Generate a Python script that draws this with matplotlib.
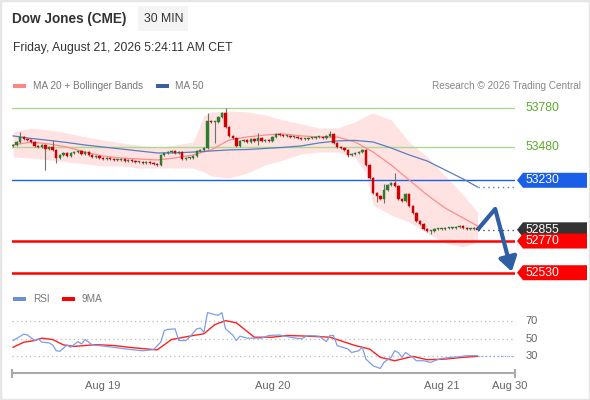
import matplotlib
matplotlib.use("Agg")
import matplotlib.pyplot as plt
from matplotlib.patches import Polygon, Rectangle
from matplotlib.transforms import blended_transform_factory
import numpy as np

plt.rcParams['font.family'] = ['Liberation Sans', 'DejaVu Sans']

# 30 min candles (close prices), open = previous close
first_open = 53490
closes = [53497, 53520, 53558, 53543, 53535, 53520, 53490, 53482, 53497, 53467,
          53482, 53460, 53399, 53422, 53437, 53414, 53437, 53444, 53452, 53429,
          53444, 53422, 53406, 53414, 53399, 53391, 53399, 53391, 53384, 53384,
          53391, 53376, 53384, 53376, 53369, 53369, 53361, 53369, 53361, 53353,
          53346, 53422, 53437, 53444, 53452, 53437, 53444, 53391, 53399, 53399,
          53414, 53452, 53460, 53475, 53679, 53672, 53672, 53710, 53740, 53634,
          53566, 53550, 53490, 53528, 53535, 53520, 53543, 53528, 53550, 53528,
          53535, 53528, 53558, 53581, 53573, 53566, 53566, 53558, 53558, 53550,
          53543, 53543, 53550, 53550, 53558, 53558, 53550, 53566, 53581, 53513,
          53482, 53475, 53460, 53422, 53429, 53437, 53444, 53460, 53346, 53247,
          53134, 53111, 53088, 53156, 53194, 53210, 53187, 53088, 53073, 53126,
          53035, 52982, 52922, 52899, 52861, 52846, 52846, 52861, 52861, 52861,
          52869, 52869, 52869, 52876, 52884, 52869, 52861, 52861, 52869, 52855]
long_highs = {2: 53596, 11: 53535, 54: 53740, 59: 53778, 68: 53588, 88: 53603,
              103: 53202, 106: 53285}
long_lows = {9: 53310, 12: 53361, 56: 53513, 68: 53497, 93: 53406, 101: 53065,
             103: 53058, 116: 52823}

# moving averages
ma_idx = list(range(0, 130, 5)) + [129]
ma20 = [53497, 53520, 53505, 53482, 53444, 53414, 53399, 53391, 53384, 53399,
        53422, 53460, 53535, 53558, 53573, 53581, 53566, 53558, 53558, 53520,
        53444, 53346, 53232, 53119, 53020, 52944, 52884]
ma50 = [53566, 53547, 53532, 53516, 53497, 53482, 53467, 53452, 53437, 53437,
        53444, 53452, 53460, 53463, 53471, 53479, 53490, 53513, 53528, 53532,
        53520, 53475, 53422, 53376, 53308, 53240, 53179]

# bollinger bands
band_idx = [0, 5, 10, 15, 20, 25, 30, 35, 40, 45, 50, 53, 55, 60, 65, 70, 75, 80,
            85, 90, 95, 98, 100, 105, 110, 115, 120, 125, 129]
band_upper = [53596, 53626, 53611, 53588, 53558, 53535, 53513, 53497, 53475, 53497,
              53520, 53717, 53748, 53755, 53748, 53725, 53687, 53657, 53626, 53626,
              53672, 53717, 53740, 53687, 53520, 53407, 53263, 53119, 52990]
band_lower = [53407, 53399, 53384, 53369, 53354, 53338, 53338, 53323, 53323, 53323,
              53323, 53293, 53263, 53247, 53285, 53346, 53384, 53429, 53444, 53444,
              53399, 53285, 53043, 52967, 52914, 52831, 52755, 52725, 52763]

# RSI and its 9 period average
rsi_idx = [0, 3, 4, 6, 7, 8, 10, 11, 12, 13, 15, 16, 18, 19, 20, 22, 26, 30, 33, 36,
           39, 41, 42, 43, 45, 46, 48, 49, 51, 52, 53, 54, 56, 57, 58, 59, 61, 62, 63,
           65, 69, 71, 74, 77, 80, 82, 85, 87, 88, 89, 90, 93, 94, 96, 97, 98, 100,
           102, 103, 105, 106, 107, 108, 109, 111, 112, 114, 116, 117, 119, 122, 124,
           126, 129]
rsi = [47.7, 55, 54, 47.7, 49.6, 45.8, 45, 42.7, 36, 35.4, 42.7, 40, 46.5, 43.8, 48.8,
       42.7, 41, 38.8, 37.3, 36, 37.3, 45.8, 59, 60.4, 61, 47.7, 47.7, 51.5, 61, 62,
       57, 79.6, 77.3, 76.5, 79.6, 61, 54, 47.7, 52.7, 50.4, 50.4, 53.5, 54, 51.5,
       49.6, 53.5, 52.7, 46.5, 53.5, 53.5, 42, 38, 34, 36, 40, 26.5, 18.8, 15.8, 22.7,
       28.5, 36, 34, 28.5, 34, 28.5, 24.6, 24.6, 22.7, 24.6, 27.3, 28.5, 29.2, 30.4,
       30.4]
ma9_idx = [0, 3, 6, 8, 11, 14, 17, 23, 28, 33, 40, 44, 49, 53, 56, 59, 62, 67, 72, 76,
           82, 88, 95, 99, 102, 106, 111, 115, 120, 125, 129]
ma9 = [40, 45.8, 47.7, 50.4, 48.8, 42.7, 41, 43, 42, 39.6, 37, 48.8, 52.7, 55.4, 65.8,
       70.4, 68, 51.5, 51.5, 53.5, 52.7, 51.5, 42, 38, 28.5, 24.6, 29.6, 25.8, 26.5,
       28.5, 29.6]

# key levels
resistances = [53780, 53480]
pivot = 53230
last_price = 52855
supports = [52770, 52530]
target = 52530
target_peak = 53013

date_ticks = [25, 72, 119, 138]
date_labels = ['Aug 19', 'Aug 20', 'Aug 21', 'Aug 30']

W, H = 590, 400


def box(x0, y0, x1, y1):
    return [x0 / W, 1 - y1 / H, (x1 - x0) / W, (y1 - y0) / H]


fig = plt.figure(figsize=(W / 100, H / 100), dpi=100)
fig.patch.set_facecolor('white')
fig.patches.append(Rectangle((0, 0), 1, 1, transform=fig.transFigure, fill=False,
                             edgecolor='#e6e6e6', lw=2.5))

# header
fig.patches.append(Rectangle((138 / W, 1 - 31 / H), 50 / W, 25 / H, transform=fig.transFigure,
                             facecolor='#f4f4f4', edgecolor='none'))
fig.text(12 / W, 1 - 19 / H, 'Dow Jones (CME)', fontsize=9.8, fontweight='bold',
         color='#333333', va='center')
fig.text(144 / W, 1 - 19 / H, '30 MIN', fontsize=8.8, color='#333333', va='center')
fig.text(13 / W, 1 - 48 / H, 'Friday, August 21, 2026 5:24:11 AM CET', fontsize=8.7,
         color='#333333', va='center')

# legends
fig.patches.append(Rectangle((13 / W, 1 - 88 / H), 13 / W, 4 / H, transform=fig.transFigure,
                             facecolor='#ff8585', edgecolor='none'))
fig.text(33 / W, 1 - 86 / H, 'MA 20 + Bollinger Bands', fontsize=7.2, color='#777777', va='center')
fig.patches.append(Rectangle((156 / W, 1 - 88 / H), 13 / W, 4 / H, transform=fig.transFigure,
                             facecolor='#3a5f9f', edgecolor='none'))
fig.text(175 / W, 1 - 86 / H, 'MA 50', fontsize=7.2, color='#777777', va='center')
fig.text(581 / W, 1 - 86 / H, 'Research © 2026 Trading Central', fontsize=7.2,
         color='#888888', va='center', ha='right')
fig.patches.append(Rectangle((13 / W, 1 - 301 / H), 13 / W, 4 / H, transform=fig.transFigure,
                             facecolor='#6a8fe0', edgecolor='none'))
fig.text(33 / W, 1 - 299 / H, 'RSI', fontsize=7.2, color='#777777', va='center')
fig.patches.append(Rectangle((62 / W, 1 - 301 / H), 13 / W, 4 / H, transform=fig.transFigure,
                             facecolor='#ff0000', edgecolor='none'))
fig.text(82 / W, 1 - 299 / H, '9MA', fontsize=7.2, color='#777777', va='center')

# price panel
ax = fig.add_axes(box(12, 100, 515, 285))
ax.set_xlim(-0.3, 139.4)
ax.set_ylim(52437, 53838)
ax.axis('off')

n = len(closes)
idx = np.arange(n)
opens = np.array([first_open] + closes[:-1], dtype=float)
cl = np.array(closes, dtype=float)
highs = np.array([long_highs.get(i, max(o, c) + 8) for i, (o, c) in enumerate(zip(opens, cl))])
lows = np.array([long_lows.get(i, min(o, c) - 8) for i, (o, c) in enumerate(zip(opens, cl))])

ax.fill_between(band_idx, band_lower, band_upper, color='#ffe2e2', lw=0, zorder=1)
ax.plot(ma_idx, ma20, color='#ff8c8c', lw=0.9, zorder=2)
ax.plot(ma_idx, ma50, color='#5a7dbf', lw=0.9, zorder=2)
ax.hlines(ma50[-1], ma_idx[-1], 139.4, color='#5a7dbf', lw=1, linestyles=(0, (1, 2.5)), zorder=2)

colors = np.where(cl >= opens, '#2e7d2e', '#d10000')
ax.vlines(idx, lows, highs, color='#707070', lw=0.8, zorder=3)
body_low = np.minimum(opens, cl)
body_h = np.maximum(np.abs(cl - opens), 6)
ax.bar(idx, body_h, bottom=body_low, width=0.66, color=colors, edgecolor=colors,
       lw=0.3, zorder=4)

for lvl in resistances:
    ax.axhline(lvl, color='#acd88f', lw=1, zorder=1.5)
ax.axhline(pivot, color='#1a5fe6', lw=1, zorder=1.5)
for lvl in supports:
    ax.axhline(lvl, color='#ff0000', lw=1.8, zorder=1.5)
ax.hlines(last_price, n - 1, 139.4, color='#555555', lw=1, linestyles=(0, (1, 2.5)), zorder=2)

# projection arrow
ax.plot([n - 1, 133.9], [last_price, target_peak], color='#2f5fa3', lw=3, zorder=6,
        solid_capstyle='butt')
ax.annotate('', xy=(138.5, target + 8), xytext=(133.9, target_peak),
            arrowprops=dict(arrowstyle='-|>,head_length=0.7,head_width=0.45',
                            color='#2f5fa3', lw=3, shrinkA=0, shrinkB=0,
                            mutation_scale=12), zorder=6)

# right side labels
tr = blended_transform_factory(ax.transAxes, ax.transData)
px = 1 / 503
half = 7.5 * 1401 / 185
tx = 1 + 10.5 * px


def tag(price, text, color):
    x0, x1, tip = 1 + 2 * px, 1 + 72 * px, 6 * px
    pts = [(x0, price), (x0 + tip, price + half), (x1, price + half),
           (x1, price - half), (x0 + tip, price - half)]
    ax.add_patch(Polygon(pts, closed=True, transform=tr, facecolor=color,
                         edgecolor='none', clip_on=False, zorder=7))
    ax.text(tx, price, text, transform=tr, color='white', fontsize=8.8, va='center',
            clip_on=False, zorder=8)


for lvl in resistances:
    ax.text(tx, lvl, str(lvl), transform=tr, color='#5aaa2a', fontsize=8.8, va='center')
tag(pivot, str(pivot), '#1a5fe6')
tag(last_price, str(last_price), '#333333')
for lvl in supports:
    tag(lvl, str(lvl), '#ff0000')

# RSI panel
rax = fig.add_axes(box(12, 305, 515, 373))
rax.set_xlim(-0.3, 139.4)
rax.set_ylim(10.6, 88.3)
for s in ['top', 'left', 'right']:
    rax.spines[s].set_visible(False)
rax.spines['bottom'].set_color('#aaaaaa')
rax.spines['bottom'].set_linewidth(1.5)
rax.tick_params(left=False, bottom=False, labelleft=False, labelsize=8,
                labelcolor='#666666', pad=2)
rax.set_xticks(date_ticks)
rax.set_xticklabels(date_labels)
for xe in [0, 1]:
    rax.plot([xe, xe], [-0.06, 0.05], transform=rax.transAxes, color='#aaaaaa',
             lw=1.5, clip_on=False)
rtr = blended_transform_factory(rax.transAxes, rax.transData)
for lvl in [70, 50, 30]:
    rax.axhline(lvl, color='#bbbbbb', lw=0.9, linestyle=(0, (1, 2.5)), zorder=1)
    rax.text(tx, lvl, str(lvl), transform=rtr, color='#666666', fontsize=8, va='center')
rax.plot(rsi_idx, rsi, color='#7f9ee8', lw=0.9, zorder=3)
rax.plot(ma9_idx, ma9, color='#ff2020', lw=1, zorder=2)
rax.hlines(rsi[-1], rsi_idx[-1], 139.4, color='#7f9ee8', lw=0.9, linestyles=(0, (1, 2)), zorder=3)

fig.savefig('out.png', dpi=100)
